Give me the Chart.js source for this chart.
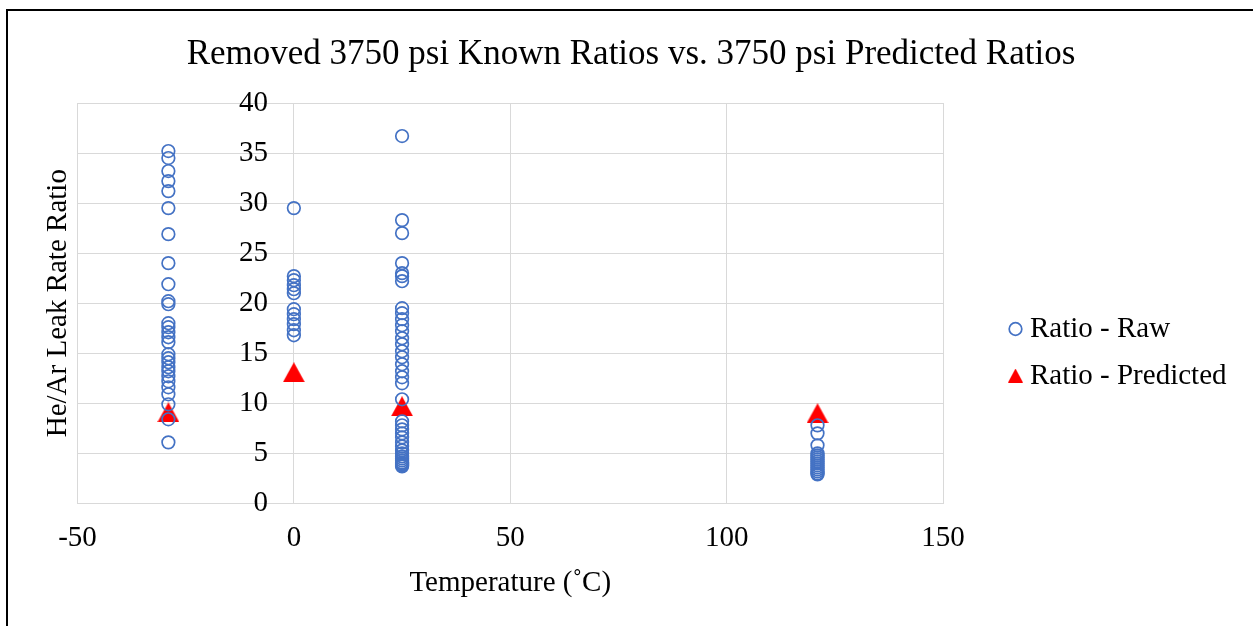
<!DOCTYPE html>
<html>
<head>
<meta charset="utf-8">
<title>He/Ar leak rate ratios</title>
<script src="https://cdn.jsdelivr.net/npm/chart.js@4.4.1/dist/chart.umd.min.js"></script>
<style>
  html, body { margin:0; padding:0; background:#fff; }
  #wrap { position:relative; width:1253px; height:626px; overflow:hidden; }
  #frame { position:absolute; left:6px; top:9px; width:1400px; height:800px;
           border-left:2px solid #000; border-top:2px solid #000; pointer-events:none; }
</style>
</head>
<body>
<div id="wrap">
  <canvas id="chart" width="1253" height="626"></canvas>
  <div id="frame"></div>
</div>
<script>
const FONT = "'Liberation Serif', 'Times New Roman', serif";

// test temperatures (deg C)
const tempsC = [-29, 0, 25, 121];

// measured He/Ar ratios at each temperature
const rawAtM29 = [35.2, 34.5, 33.2, 32.2, 31.2, 29.5, 26.9, 24.0, 21.9, 20.2, 19.9, 18.0, 17.6,
  17.1, 16.6, 16.1, 14.9, 14.5, 14.1, 13.6, 13.2, 12.7, 12.2, 11.6, 10.9, 9.9, 8.4, 6.1];
const rawAt0 = [29.5, 22.7, 22.3, 21.8, 21.4, 21.0, 19.4, 18.9, 18.4, 17.9, 17.3, 16.8];
const rawAt25 = [36.7, 28.3, 27.0, 24.0, 23.0, 22.7, 22.2, 19.5, 19.0, 18.4, 17.8, 17.2, 16.5,
  15.9, 15.2, 14.6, 13.9, 13.2, 12.6, 12.0, 10.4, 8.2, 7.8, 7.4, 7.0, 6.6, 6.1, 5.7, 5.3,
  5.0, 4.7, 4.5, 4.3, 4.1, 4.0, 3.9, 3.8, 3.7];
const rawAt121 = [7.8, 7.0, 5.8, 5.0, 4.8, 4.6, 4.4, 4.2, 4.0, 3.8, 3.6, 3.4, 3.2, 3.0, 2.9];

// model prediction at each temperature
const predicted = [9.1, 13.1, 9.7, 9.0];

const xTicks = { min: -50, max: 150, step: 50 };
const yTicks = { min: 0, max: 40, step: 5 };

const rawGroups = [rawAtM29, rawAt0, rawAt25, rawAt121];
const rawPoints = [];
rawGroups.forEach((vals, i) => vals.forEach(v => rawPoints.push({ x: tempsC[i], y: v })));
const predPoints = tempsC.map((t, i) => ({ x: t, y: predicted[i] }));

// red triangle marker, centred on its bounding box
function triangleMarker(w, h){
  const c = document.createElement('canvas');
  c.width = w; c.height = h;
  const g = c.getContext('2d');
  g.fillStyle = '#FF0000';
  g.beginPath();
  g.moveTo(w / 2, 0);
  g.lineTo(w, h);
  g.lineTo(0, h);
  g.closePath();
  g.fill();
  return c;
}
const bigTri = triangleMarker(22, 20);
const smallTri = triangleMarker(15, 14);

// legend drawn by hand to the right of the plot
const sideLegend = {
  id: 'sideLegend',
  afterDraw(chart){
    const ctx = chart.ctx;
    ctx.save();
    ctx.font = `29px ${FONT}`;
    ctx.fillStyle = '#000';
    ctx.textBaseline = 'alphabetic';
    chart.data.datasets.forEach((ds, i) => {
      const y = 329 + i * 46.5;
      if (ds.pointStyle === 'circle') {
        ctx.beginPath();
        ctx.arc(1015.5, y, 6.3, 0, Math.PI * 2);
        ctx.lineWidth = ds.borderWidth;
        ctx.strokeStyle = ds.borderColor;
        ctx.stroke();
      } else {
        ctx.drawImage(smallTri, 1008, y - 7);
      }
      ctx.fillText(ds.label, 1030, y + 8);
    });
    ctx.restore();
  }
};

new Chart(document.getElementById('chart'), {
  type: 'scatter',
  data: {
    datasets: [
      {
        label: 'Ratio - Raw',
        data: rawPoints,
        pointStyle: 'circle',
        pointRadius: 6.3,
        borderWidth: 1.7,
        borderColor: '#4472C4',
        backgroundColor: 'rgba(0,0,0,0)'
      },
      {
        label: 'Ratio - Predicted',
        data: predPoints,
        pointStyle: bigTri,
        pointRadius: 11,
        borderColor: '#FF0000',
        backgroundColor: '#FF0000'
      }
    ]
  },
  options: {
    responsive: false,
    animation: false,
    layout: { padding: { left: 9, right: 0, top: 0, bottom: 25 } },
    plugins: {
      legend: { display: false },
      tooltip: { enabled: false },
      title: {
        display: true,
        text: 'Removed 3750 psi Known Ratios vs. 3750 psi Predicted Ratios',
        color: '#000',
        font: { family: FONT, size: 35, weight: 'normal' },
        padding: { top: 34, bottom: 27 }
      }
    },
    scales: {
      x: {
        type: 'linear',
        min: xTicks.min, max: xTicks.max,
        ticks: { stepSize: xTicks.step, color: '#000', padding: 17.5,
                 font: { family: FONT, size: 29 } },
        grid: { color: '#d9d9d9', drawTicks: false },
        border: { color: '#d9d9d9' },
        title: { display: true, text: 'Temperature (˚C)', color: '#000',
                 font: { family: FONT, size: 29 }, padding: { top: -7, bottom: 0 } }
      },
      y: {
        type: 'linear',
        // labels sit a little left of the x = 0 line
        position: { x: -6 },
        min: yTicks.min, max: yTicks.max,
        ticks: { stepSize: yTicks.step, color: '#000',
                 font: { family: FONT, size: 29 } },
        grid: { color: '#d9d9d9', drawTicks: false },
        border: { display: false }
      },
      yTitle: {
        type: 'linear',
        position: 'left',
        min: yTicks.min, max: yTicks.max,
        ticks: { display: false },
        grid: { display: false, drawTicks: false },
        border: { display: false },
        title: { display: true, text: 'He/Ar Leak Rate Ratio', color: '#000',
                 font: { family: FONT, size: 29 }, padding: { top: 31.6, bottom: 2.1 } }
      },
      // empty axis that keeps room for the legend on the right
      legendSpace: {
        type: 'linear',
        position: 'right',
        ticks: { display: false },
        grid: { display: false, drawTicks: false },
        border: { display: false },
        afterFit(scale){ scale.width = 310; }
      }
    }
  },
  plugins: [sideLegend]
});
</script>
</body>
</html>
